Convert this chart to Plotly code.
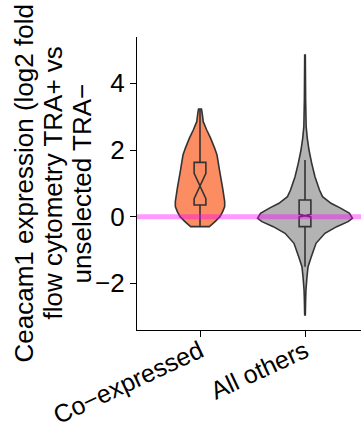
import plotly.graph_objects as go

# Groups and their axis labels
categories = ["Co−expressed", "All others"]
positions = [1, 2]

# Violin density profiles: y values and half-width (in category units)
coexp_y = [-0.3, -0.15, 0.0, 0.15, 0.3, 0.45, 0.85, 1.35, 1.85, 2.05, 2.35, 2.6, 2.85, 3.1, 3.23]
coexp_hw = [0.089, 0.143, 0.19, 0.216, 0.235, 0.235, 0.216, 0.188, 0.162, 0.14, 0.102, 0.064, 0.031, 0.021, 0.014]

others_y = [-2.95, -2.5, -2.2, -1.8, -1.5, -1.2, -0.8, -0.5, -0.3, -0.15, -0.05, 0.1, 0.25, 0.4,
            0.6, 0.8, 1.2, 1.6, 2.0, 2.35, 2.7, 3.5, 4.85]
others_hw = [0.003, 0.006, 0.009, 0.019, 0.029, 0.06, 0.105, 0.19, 0.302, 0.41, 0.452, 0.424, 0.343,
             0.248, 0.167, 0.138, 0.095, 0.064, 0.038, 0.022, 0.011, 0.006, 0.003]

# Box summaries (notched)
box_q1 = [0.35, -0.3]
box_median = [0.92, 0.03]
box_q3 = [1.63, 0.5]
box_lower = [-0.3, -1.5]
box_upper = [3.23, 1.7]
box_notch = [0.38, 0.04]

fills = ["#FC8D62", "#B3B3B3"]
edge = "#333333"
edge_w = 1.6

y_ticks = [-2, 0, 2, 4]
y_ticktext = ["−2", "0", "2", "4"]

title_lines = ["Ceacam1 expression (log2 fold", "flow cytometry TRA+ vs", "unselected TRA−"]

fig = go.Figure()

# Violin outlines as data-space paths placed beneath the box traces
shapes = []
profiles = [(coexp_y, coexp_hw), (others_y, others_hw)]
for pos, (ys, hws), col in zip(positions, profiles, fills):
    pts = [(pos + w, y) for y, w in zip(ys, hws)] + \
          [(pos - w, y) for y, w in zip(reversed(ys), reversed(hws))]
    path = "M " + " L ".join(f"{x:.5f},{y:.4f}" for x, y in pts) + " Z"
    shapes.append(dict(type="path", xref="x", yref="y", path=path, fillcolor=col,
                       line=dict(color=edge, width=edge_w), layer="below"))

for i, pos in enumerate(positions):
    fig.add_trace(go.Box(
        x=[pos], q1=[box_q1[i]], median=[box_median[i]], q3=[box_q3[i]],
        lowerfence=[box_lower[i]], upperfence=[box_upper[i]],
        notched=True, notchspan=[box_notch[i]], notchwidth=0.5,
        orientation="v", width=0.112, whiskerwidth=0, fillcolor="rgba(0,0,0,0)",
        line=dict(color=edge, width=edge_w), boxpoints=False,
        hoverinfo="skip", showlegend=False,
    ))

# Reference line at zero fold change
shapes.append(dict(type="line", xref="paper", yref="y", x0=0, x1=1, y0=0, y1=0,
                   line=dict(color="rgba(255,0,255,0.4)", width=5), layer="above"))

font_family = "Liberation Sans, Arial, sans-serif"
fs = 26

# Three-line y-axis title, one annotation per line for tighter line spacing
title_centers = [23, 52, 81]
annotations = [
    dict(text=t, xref="paper", yref="paper", x=0, y=0.5, xanchor="center", yanchor="middle",
         xshift=c - 137, textangle=-90, showarrow=False, font=dict(size=fs, color="black"))
    for t, c in zip(title_lines, title_centers)
]

fig.update_layout(
    width=361, height=430,
    margin=dict(l=137, r=0, t=37, b=100),
    paper_bgcolor="white", plot_bgcolor="white",
    font=dict(family=font_family, size=fs, color="black"),
    xaxis=dict(
        range=[0.4, 0.4 + 224 / 105], tickvals=positions, ticktext=categories,
        tickangle=-25, showline=True, linecolor="black", linewidth=1.3,
        ticks="outside", ticklen=6, tickwidth=1.3, tickcolor="black",
        ticklabelstandoff=-10,
        showgrid=False, zeroline=False, tickfont=dict(size=25), automargin=False,
    ),
    yaxis=dict(
        range=[-3.4, 5.39], tickvals=y_ticks, ticktext=y_ticktext,
        showline=True, linecolor="black", linewidth=1.3,
        ticks="outside", ticklen=6, tickwidth=1.3, tickcolor="black",
        showgrid=False, zeroline=False, tickfont=dict(size=fs), automargin=False,
    ),
    shapes=shapes,
    annotations=annotations,
)

fig.write_html("out.html")
